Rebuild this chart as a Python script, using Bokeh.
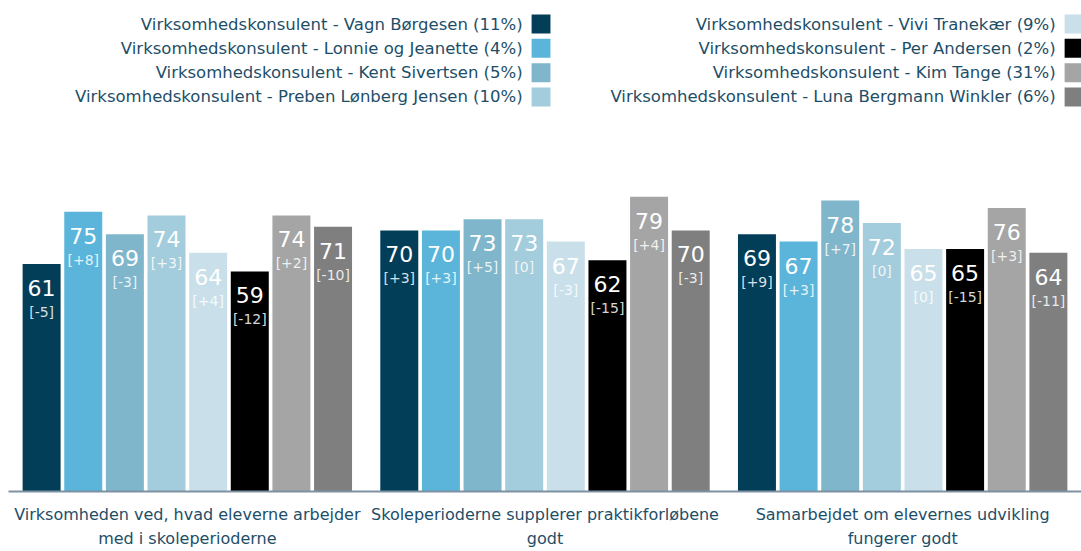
from bokeh.plotting import figure
from bokeh.layouts import column
from bokeh.models import Range1d, FixedTicker, ColumnDataSource
from bokeh.core.properties import value
from bokeh.embed import file_html
from bokeh.resources import INLINE

# ---------------- data ----------------
categories = [
    "Virksomheden ved, hvad eleverne arbejder\nmed i skoleperioderne",
    "Skoleperioderne supplerer praktikforløbene\ngodt",
    "Samarbejdet om elevernes udvikling\nfungerer godt",
]
series_names = [
    "Virksomhedskonsulent - Vagn Børgesen (11%)",
    "Virksomhedskonsulent - Lonnie og Jeanette (4%)",
    "Virksomhedskonsulent - Kent Sivertsen (5%)",
    "Virksomhedskonsulent - Preben Lønberg Jensen (10%)",
    "Virksomhedskonsulent - Vivi Tranekær (9%)",
    "Virksomhedskonsulent - Per Andersen (2%)",
    "Virksomhedskonsulent - Kim Tange (31%)",
    "Virksomhedskonsulent - Luna Bergmann Winkler (6%)",
]
series_colors = ["#023E58", "#5BB5DB", "#7FB6CB", "#A3CCDC",
                 "#C9E0EA", "#000000", "#A5A5A5", "#7F7F7F"]
# values per series, one per category
values = [
    [61, 70, 69],
    [75, 70, 67],
    [69, 73, 78],
    [74, 73, 72],
    [64, 67, 65],
    [59, 62, 65],
    [74, 79, 76],
    [71, 70, 64],
]
changes = [
    ["-5", "+3", "+9"],
    ["+8", "+3", "+3"],
    ["-3", "+5", "+7"],
    ["+3", "0", "0"],
    ["+4", "-3", "0"],
    ["-12", "-15", "-15"],
    ["+2", "+4", "+3"],
    ["-10", "-3", "-11"],
]

TEXT_COLOR = "#1D4E68"
FONT = "DejaVu Sans"
W = 1081
LEG_H = 118

# ---------------- legend figure ----------------
leg = figure(width=W, height=LEG_H, x_range=Range1d(0, W), y_range=Range1d(LEG_H, 0),
             output_backend="svg", toolbar_location=None, min_border=0)
leg.axis.visible = False
leg.grid.visible = False
leg.outline_line_color = None

n_rows = 4
col_text_x = [518, 1055]
row_y0, row_pitch = 23.5, 24.33
lx, ly, lsx, lcol, ltxt = [], [], [], [], []
for i, name in enumerate(series_names):
    c, r = divmod(i, n_rows)
    lx.append(col_text_x[c])
    lsx.append(col_text_x[c] + 18.5)
    ly.append(row_y0 + r * row_pitch)
    lcol.append(series_colors[i])
    ltxt.append(name)
lsrc = ColumnDataSource(dict(x=lx, sx=lsx, y=ly, color=lcol, text=ltxt))
leg.text(x="x", y="y", text="text", source=lsrc, text_align="right",
         text_baseline="middle", text_color=TEXT_COLOR,
         text_font=value(FONT), text_font_size="16.5px")
leg.rect(x="sx", y="y", width=19, height=19, source=lsrc,
         fill_color="color", line_color=None)

# ---------------- main figure ----------------
p = figure(width=W, height=551 - LEG_H, x_range=Range1d(0, 3), y_range=Range1d(0, 100),
           output_backend="svg", toolbar_location=None,
           min_border_left=8, min_border_right=0, min_border_top=0,
           min_border_bottom=49)
p.yaxis.visible = False
p.grid.visible = False
p.outline_line_color = None

pitch = 0.1164
bar_w = 0.1062
bx, by, bcol, btxt, ctxt = [], [], [], [], []
for j in range(len(series_names)):
    for g in range(len(categories)):
        bx.append(g + 0.5 + (j - 3.5) * pitch)
        by.append(values[j][g])
        bcol.append(series_colors[j])
        btxt.append(str(values[j][g]))
        ctxt.append("[" + changes[j][g] + "]")
src = ColumnDataSource(dict(x=bx, top=by, color=bcol, vtxt=btxt, ctxt=ctxt))
p.vbar(x="x", top="top", bottom=0, width=bar_w, source=src,
       fill_color="color", line_color=None)
p.text(x="x", y="top", text="vtxt", source=src, y_offset=24,
       text_align="center", text_baseline="middle", text_color="white",
       text_font=value(FONT), text_font_size="22px")
p.text(x="x", y="top", text="ctxt", source=src, y_offset=48,
       text_align="center", text_baseline="middle",
       text_color="white", text_alpha=0.85,
       text_font=value(FONT), text_font_size="14px")

p.xaxis.ticker = FixedTicker(ticks=[g + 0.5 for g in range(len(categories))])
p.xaxis.major_label_overrides = {g + 0.5: lab for g, lab in enumerate(categories)}
p.xaxis.major_tick_line_color = None
p.xaxis.minor_tick_line_color = None
p.xaxis.axis_line_color = "#7D91A2"
p.xaxis.axis_line_width = 2
p.xaxis.major_label_text_color = TEXT_COLOR
p.xaxis.major_label_text_font = FONT
p.xaxis.major_label_text_font_size = "16px"
p.xaxis.major_label_text_line_height = 1.3
p.xaxis.major_label_standoff = 7

layout = column(leg, p, spacing=0)
open("out.html", "w").write(file_html(layout, INLINE))
